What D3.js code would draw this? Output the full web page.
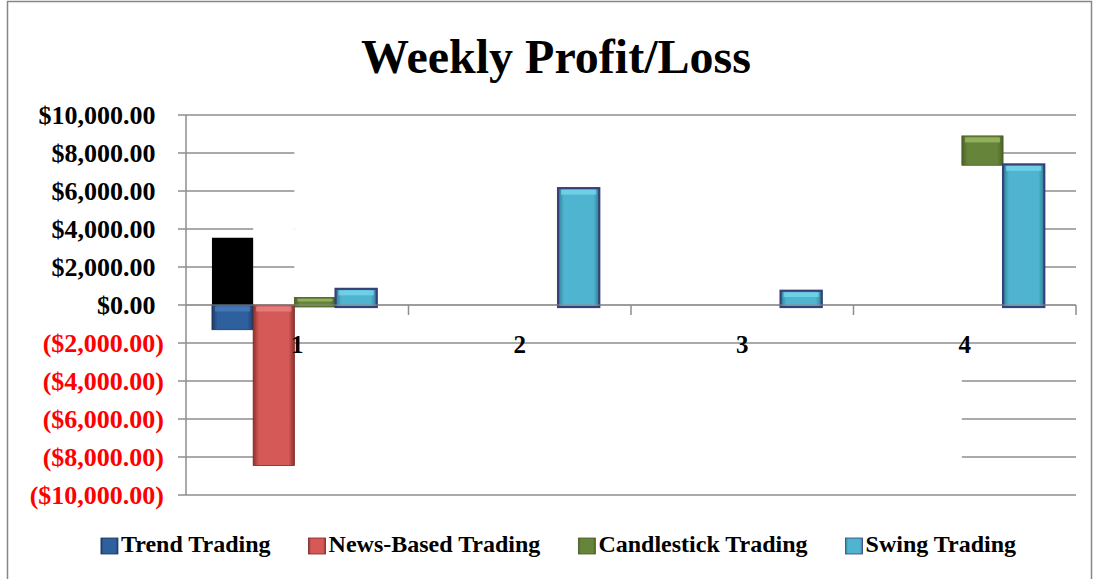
<!DOCTYPE html>
<html>
<head>
<meta charset="utf-8">
<script src="https://cdn.jsdelivr.net/npm/d3@7/dist/d3.min.js"></script>
<style>
  html, body { margin: 0; padding: 0; background: #ffffff; }
  svg { display: block; }
  text { font-family: "Liberation Serif", "Times New Roman", serif; font-weight: bold; }
</style>
</head>
<body>
<svg id="chart" width="1094" height="579"></svg>
<script>
// Weekly results per strategy (USD)
const weeks = ["1", "2", "3", "4"];
const seriesNames = ["Trend Trading", "News-Based Trading", "Candlestick Trading", "Swing Trading"];
const trendValues = [-1300, 0, 0, 0];
const newsValues = [-8450, 0, 0, 0];
const candleValues = [400, 0, 0, 8900];
const candleBase = [0, 0, 0, 7460];
const swingValues = [850, 6150, 750, 7400];
const trendBackdrop = [3540, 0, 0, 0];
const yTicks = [-10000, -8000, -6000, -4000, -2000, 0, 2000, 4000, 6000, 8000, 10000];
const titleText = "Weekly Profit/Loss";

const svg = d3.select("#chart");
const W = 1094, H = 579;
const plot = { left: 186, right: 1076, top: 115, bottom: 495 };

// Outer chart frame
svg.append("rect")
  .attr("x", 7.5).attr("y", 1.5).attr("width", W - 10).attr("height", H + 10)
  .attr("fill", "#fff").attr("stroke", "#868686").attr("stroke-width", 1.5);

// Scales
const x = d3.scaleBand().domain(weeks).range([plot.left, plot.right]).paddingInner(0).paddingOuter(0);
const xs = d3.scaleBand().domain(seriesNames).range([0, x.bandwidth()]).paddingInner(0).paddingOuter(0.7).align(0.45);
const y = d3.scaleLinear().domain([-10000, 10000]).range([plot.bottom, plot.top]);

// Title
svg.append("text")
  .attr("x", 556).attr("y", 73)
  .attr("text-anchor", "middle")
  .attr("font-size", 48)
  .attr("fill", "#000")
  .text(titleText);

// Gridlines and value-axis tick marks
const grid = svg.append("g");
grid.selectAll("line").data(yTicks).join("line")
  .attr("x1", plot.left - 8).attr("x2", plot.right)
  .attr("y1", d => y(d)).attr("y2", d => y(d))
  .attr("stroke", "#8e8e8e").attr("stroke-width", 1.5);

// Cleared areas of the plot background
const clearZones = [
  { from: ["1", "Candlestick Trading"], to: ["4", "Swing Trading"], lo: 1000, hi: 9500 },
  { from: ["1", "News-Based Trading"], to: ["1", "Candlestick Trading"], lo: 3700, hi: 5000 },
  { from: ["1", "Candlestick Trading"], to: ["4", "Candlestick Trading"], lo: -9000, hi: -3000 }
];
svg.append("g").selectAll("rect").data(clearZones).join("rect")
  .attr("x", d => x(d.from[0]) + xs(d.from[1]))
  .attr("width", d => (x(d.to[0]) + xs(d.to[1])) - (x(d.from[0]) + xs(d.from[1])))
  .attr("y", d => y(d.hi))
  .attr("height", d => y(d.lo) - y(d.hi))
  .attr("fill", "#fff");

// Value axis line
svg.append("line")
  .attr("x1", plot.left).attr("x2", plot.left)
  .attr("y1", plot.top).attr("y2", plot.bottom)
  .attr("stroke", "#8e8e8e").attr("stroke-width", 1.5);

// Y-axis labels (accounting format)
const money = d3.format("$,.2f");
svg.append("g").selectAll("text").data(yTicks).join("text")
  .attr("x", d => d < 0 ? 164 : 155.5)
  .attr("y", d => y(d))
  .attr("dy", "0.33em")
  .attr("text-anchor", "end")
  .attr("font-size", 26)
  .attr("fill", d => d < 0 ? "#ff0000" : "#000")
  .text(d => d < 0 ? "(" + money(-d) + ")" : money(d));

// Gradients for bevelled bars
const defs = svg.append("defs");
const palettes = {
  "Trend Trading": { edge: "#1d3c66", mid: "#2f609e", top: "#4a7cb8", stroke: "#1b3559" },
  "News-Based Trading": { edge: "#8e2f2c", mid: "#d55a57", top: "#e58582", stroke: "#7a2624" },
  "Candlestick Trading": { edge: "#4b6327", mid: "#66843a", top: "#9cbc62", stroke: "#465c24" },
  "Swing Trading": { edge: "#2f7d93", mid: "#4fb4cf", top: "#76d6ea", stroke: "#38407a" }
};
seriesNames.forEach((s, i) => {
  const p = palettes[s];
  const g = defs.append("linearGradient").attr("id", "grad" + i)
    .attr("x1", "0").attr("x2", "1").attr("y1", "0").attr("y2", "0");
  g.append("stop").attr("offset", "0%").attr("stop-color", p.edge);
  g.append("stop").attr("offset", "14%").attr("stop-color", p.mid);
  g.append("stop").attr("offset", "86%").attr("stop-color", p.mid);
  g.append("stop").attr("offset", "100%").attr("stop-color", p.edge);
});

// Bar records built from the series arrays
const seriesData = [
  { name: "Trend Trading", values: trendValues, base: [0, 0, 0, 0] },
  { name: "News-Based Trading", values: newsValues, base: [0, 0, 0, 0] },
  { name: "Candlestick Trading", values: candleValues, base: candleBase },
  { name: "Swing Trading", values: swingValues, base: [0, 0, 0, 0] }
];

// Dark block behind the first trend bar
svg.append("g").selectAll("rect")
  .data(weeks.map((w, i) => ({ week: w, v: trendBackdrop[i] })).filter(d => d.v !== 0))
  .join("rect")
  .attr("x", d => x(d.week) + xs("Trend Trading"))
  .attr("width", xs.bandwidth())
  .attr("y", d => y(d.v))
  .attr("height", d => y(0) - y(d.v))
  .attr("fill", "#000");

const barsG = svg.append("g");
seriesData.forEach((s, si) => {
  const p = palettes[s.name];
  const recs = weeks.map((w, i) => ({ week: w, v: s.values[i], b: s.base[i] })).filter(d => d.v !== 0);
  const g = barsG.append("g");
  const isSwing = s.name === "Swing Trading";
  g.selectAll("rect.bar").data(recs).join("rect")
    .attr("class", "bar")
    .attr("x", d => x(d.week) + xs(s.name))
    .attr("width", xs.bandwidth())
    .attr("y", d => y(Math.max(d.v, d.b)))
    .attr("height", d => Math.abs(y(d.v) - y(d.b)) + (d.v > 0 ? 2 : 0))
    .attr("fill", "url(#grad" + si + ")")
    .attr("stroke", p.stroke)
    .attr("stroke-width", isSwing ? 2.2 : 0.8);
  // top bevel highlight
  g.selectAll("rect.hl").data(recs).join("rect")
    .attr("class", "hl")
    .attr("x", d => x(d.week) + xs(s.name) + 3)
    .attr("width", xs.bandwidth() - 6)
    .attr("y", d => y(Math.max(d.v, d.b)) + 1.5)
    .attr("height", d => Math.min(5, Math.abs(y(d.v) - y(d.b)) / 3))
    .attr("fill", p.top)
    .attr("opacity", 0.8);
});

// Zero line over bar bases
svg.append("line")
  .attr("x1", plot.left).attr("x2", plot.right)
  .attr("y1", y(0)).attr("y2", y(0))
  .attr("stroke", "#8e8e8e").attr("stroke-width", 1.5)
  .attr("opacity", 0.6);

// Category tick marks
svg.append("g").selectAll("line").data(weeks).join("line")
  .attr("x1", d => x(d) + x.bandwidth()).attr("x2", d => x(d) + x.bandwidth())
  .attr("y1", y(0)).attr("y2", y(0) + 10)
  .attr("stroke", "#8e8e8e").attr("stroke-width", 1.5);

// Category labels
svg.append("g").selectAll("text").data(weeks).join("text")
  .attr("x", d => x(d) + x.bandwidth() / 2)
  .attr("y", 353)
  .attr("text-anchor", "middle")
  .attr("font-size", 25)
  .attr("fill", "#000")
  .text(d => d);

// Legend
const legend = svg.append("g");
const items = legend.selectAll("g").data(seriesNames).join("g");
items.append("rect")
  .attr("width", 17).attr("height", 16)
  .attr("y", 538)
  .attr("fill", (d, i) => "url(#grad" + i + ")")
  .attr("stroke", d => palettes[d].stroke).attr("stroke-width", 0.8);
items.append("text")
  .attr("x", 20).attr("y", 552)
  .attr("font-size", 24)
  .attr("fill", "#000")
  .text(d => d);
let cursor = 0;
const offsets = [];
items.each(function () {
  offsets.push(cursor);
  const tw = d3.select(this).select("text").node().getComputedTextLength();
  cursor += 20 + tw + 38;
});
const total = cursor - 38;
const start = 558.5 - total / 2;
items.attr("transform", (d, i) => `translate(${start + offsets[i]},0)`);
</script>
</body>
</html>
